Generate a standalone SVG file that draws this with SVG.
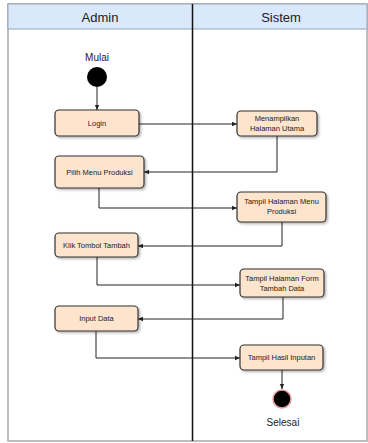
<svg xmlns="http://www.w3.org/2000/svg" width="368" height="443" viewBox="0 0 368 443">
<defs>
<style>
.frame{fill:#fff;stroke:#a8a8a8;stroke-width:1.5}
.hdr{fill:#dae8fc;stroke:#9aa6b8;stroke-width:1}
.hdrt{font-family:"Liberation Sans",Arial,sans-serif;font-size:13px;fill:#222;text-anchor:middle}
.box{fill:#fde4cc;stroke:#333;stroke-width:1.2}
.t{font-family:"Liberation Sans",Arial,sans-serif;font-size:7.5px;fill:#222;text-anchor:middle}
.lbl{font-family:"Liberation Sans",Arial,sans-serif;font-size:10px;fill:#222;text-anchor:middle}
.c{fill:none;stroke:#222;stroke-width:1;marker-end:url(#ah)}
</style>
<marker id="ah" viewBox="0 0 8 8" refX="7" refY="4" markerWidth="6" markerHeight="6" orient="auto" markerUnits="userSpaceOnUse">
<path d="M0,1 L7,4 L0,7 Z" fill="#222"/>
</marker>
<filter id="sh" x="-10%" y="-20%" width="130%" height="160%">
<feDropShadow dx="1.5" dy="1.5" stdDeviation="1" flood-color="#000" flood-opacity="0.3"/>
</filter>
</defs>
<rect class="frame" x="8" y="4" width="359" height="437"/>
<rect class="hdr" x="8" y="4" width="359" height="25"/>
<text class="hdrt" x="100" y="22">Admin</text>
<text class="hdrt" x="281" y="22">Sistem</text>
<line x1="192.5" y1="4" x2="192.5" y2="441" stroke="#111" stroke-width="1.5"/>

<g id="connectors">
<path class="c" d="M97,87 V110"/>
<path class="c" d="M139,124 H237"/>
<path class="c" d="M277,136 V172 H144"/>
<path class="c" d="M99,188 V208 H237"/>
<path class="c" d="M282,222 V246 H138"/>
<path class="c" d="M97,257 V285 H240"/>
<path class="c" d="M283,297 V319 H138"/>
<path class="c" d="M96,331 V358 H240"/>
<path class="c" d="M282,370 V389"/>
</g>

<g id="start">
<text class="lbl" x="97" y="61">Mulai</text>
<circle cx="97" cy="77" r="10" fill="#000"/>
</g>
<g id="login">
<rect class="box" filter="url(#sh)" x="55" y="110" width="84" height="26" rx="4"/>
<text class="t" x="97" y="126">Login</text>
</g>
<g id="menampilkan">
<rect class="box" filter="url(#sh)" x="237" y="111" width="80" height="25" rx="4"/>
<text class="t" x="277" y="121">Menampilkan</text>
<text class="t" x="277" y="131">Halaman Utama</text>
</g>
<g id="pilih">
<rect class="box" filter="url(#sh)" x="55" y="156" width="89" height="32" rx="4"/>
<text class="t" x="99.5" y="175">Pilih Menu Produksi</text>
</g>
<g id="tampil-menu">
<rect class="box" filter="url(#sh)" x="237" y="192" width="89" height="30" rx="4"/>
<text class="t" x="281.5" y="204">Tampil Halaman Menu</text>
<text class="t" x="281.5" y="214">Produksi</text>
</g>
<g id="klik">
<rect class="box" filter="url(#sh)" x="55" y="233" width="83" height="24" rx="4"/>
<text class="t" x="96.5" y="248">Klik Tombol Tambah</text>
</g>
<g id="tampil-form">
<rect class="box" filter="url(#sh)" x="240" y="269" width="84" height="28" rx="4"/>
<text class="t" x="282" y="281">Tampil Halaman Form</text>
<text class="t" x="282" y="291">Tambah Data</text>
</g>
<g id="input">
<rect class="box" filter="url(#sh)" x="55" y="306" width="83" height="25" rx="4"/>
<text class="t" x="96.5" y="321">Input Data</text>
</g>
<g id="tampil-hasil">
<rect class="box" filter="url(#sh)" x="240" y="345" width="83" height="25" rx="4"/>
<text class="t" x="281.5" y="360">Tampil Hasil Inputan</text>
</g>
<g id="end">
<circle cx="282" cy="399" r="9" fill="#000" stroke="#e8a0a0" stroke-width="1.5"/>
<text class="lbl" x="283" y="426">Selesai</text>
</g>
</svg>
